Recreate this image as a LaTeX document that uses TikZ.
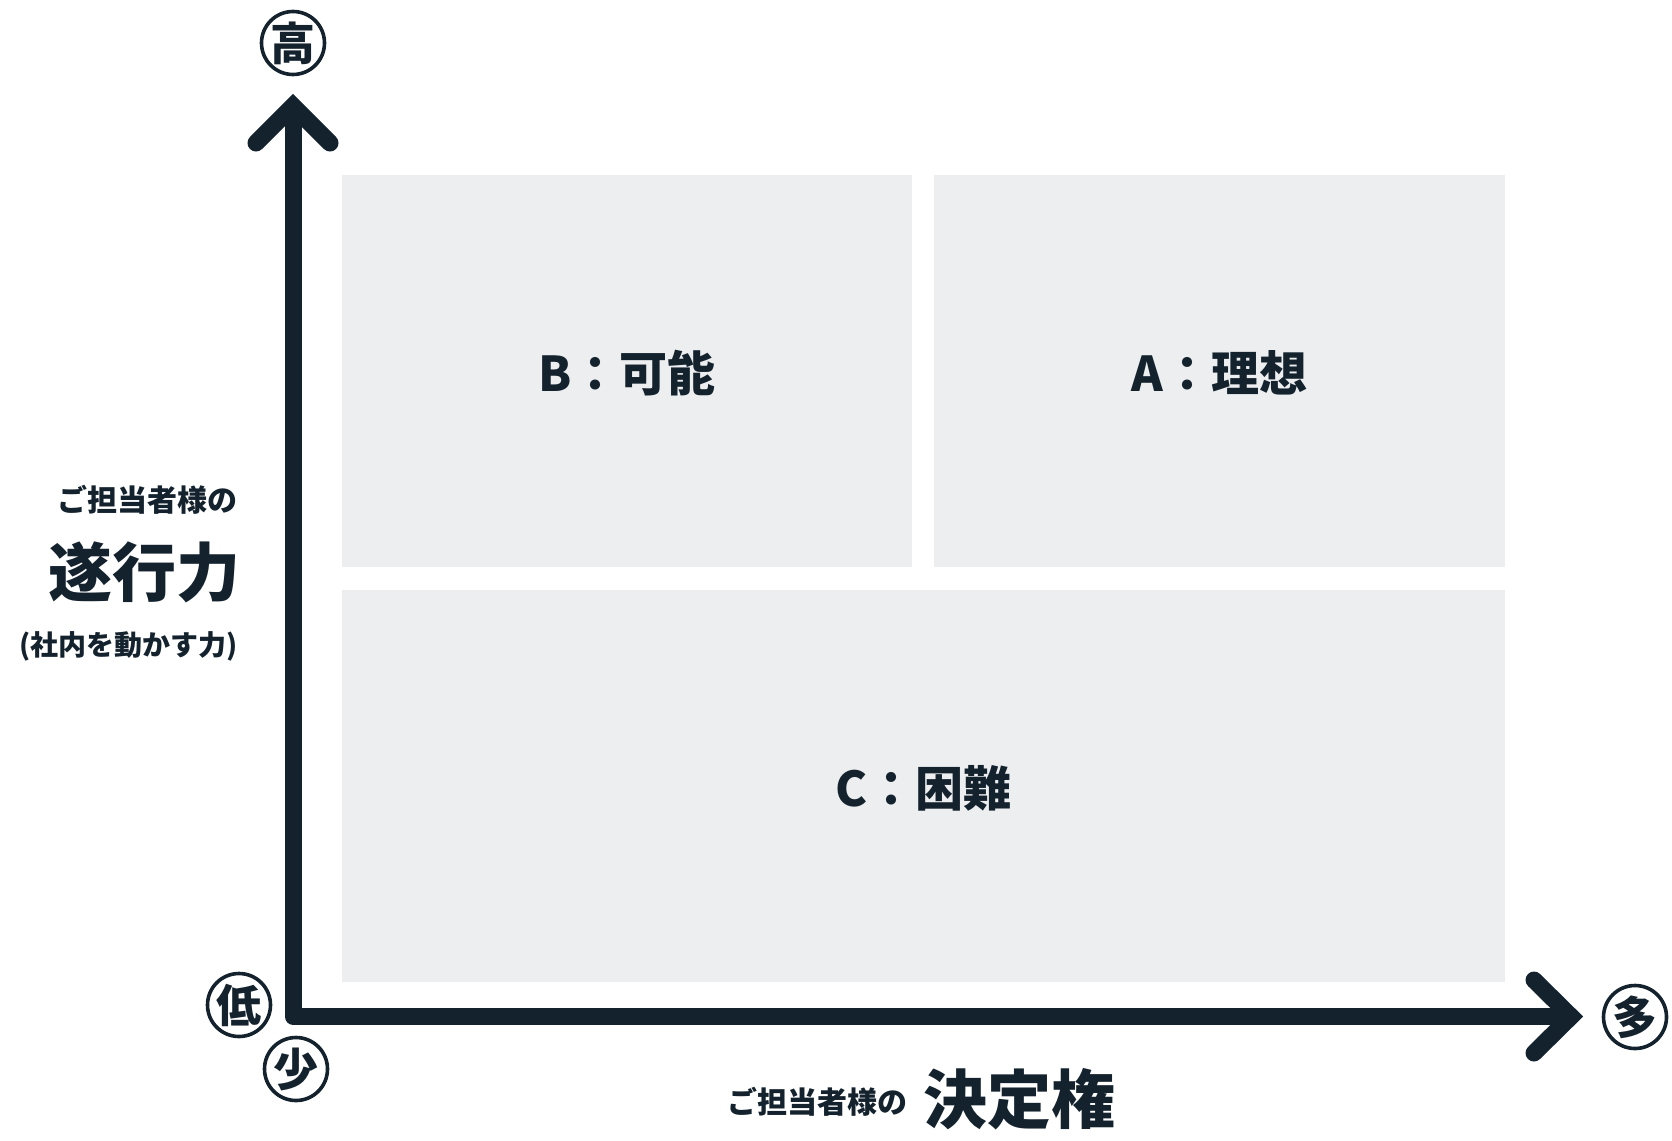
\documentclass[tikz,border=0pt]{standalone}
\usepackage{fontspec}
\newfontfamily\jp{Noto Sans CJK JP}
\definecolor{ink}{HTML}{14222E}
\definecolor{panel}{HTML}{ECEEF0}
\begin{document}
\begin{tikzpicture}[x=1pt,y=-1pt,
  axis/.style={draw=ink,line width=17pt,line join=round,line cap=butt},
  arrowtip/.style={draw=ink,line width=17pt,line join=miter,line cap=round},
  panelbox/.style={fill=panel,draw=none},
  quad/.style={font=\jp\bfseries\fontsize{48}{52}\selectfont,text=ink,inner sep=0pt},
  lbl/.style={font=\jp\bfseries\fontsize{30}{34}\selectfont,text=ink,inner sep=0pt},
  sublbl/.style={font=\jp\bfseries\fontsize{28}{32}\selectfont,text=ink,inner sep=0pt},
  big/.style={font=\jp\bfseries\fontsize{64}{68}\selectfont,text=ink,inner sep=0pt},
  circmark/.style={circle,draw=ink,line width=3.6pt,minimum size=63pt,inner sep=0pt,
    font=\jp\bfseries\fontsize{45}{45}\selectfont,text=ink}]
\useasboundingbox[fill=white] (0,0) rectangle (1672,1140);
% panels
\fill[panelbox] (342,175) rectangle (912,567);
\fill[panelbox] (934,175) rectangle (1505,567);
\fill[panelbox] (342,590) rectangle (1505,982);
\node[quad] (b) at (627,373) {B：可能};
\node[quad] (a) at (1219.5,373) {A：理想};
\node[quad] (c) at (923,788) {C：困難};
% axes
\coordinate (o) at (293,1016.5);
\coordinate (ytop) at (293,106);
\coordinate (xend) at (1571,1016.5);
\coordinate (yl) at (256,143);
\coordinate (yr) at (330,143);
\coordinate (xu) at (1534,980);
\coordinate (xd) at (1534,1053);
\draw[axis] (ytop) -- (o) -- (xend);
\draw[arrowtip] (yl) -- (ytop) -- (yr);
\draw[arrowtip] (xu) -- (xend) -- (xd);
% end marks
\node[circmark] (high) at (293,43) {高};
\node[circmark] (low) at (239,1005) {低};
\node[circmark] (few) at (296,1069) {少};
\node[circmark] (many) at (1635,1017) {多};
% left label
\node[lbl,anchor=east] (ytitle1) at (238,500) {ご担当者様の};
\node[big,anchor=east] (ytitle2) at (241,572) {遂行力};
\node[sublbl,anchor=east] (ytitle3) at (238,646) {(社内を動かす力)};
% bottom label
\node[lbl,anchor=west] (xtitle1) at (727,1102) {ご担当者様の};
\node[big,anchor=west] (xtitle2) at (923,1099) {決定権};
\end{tikzpicture}
\end{document}
